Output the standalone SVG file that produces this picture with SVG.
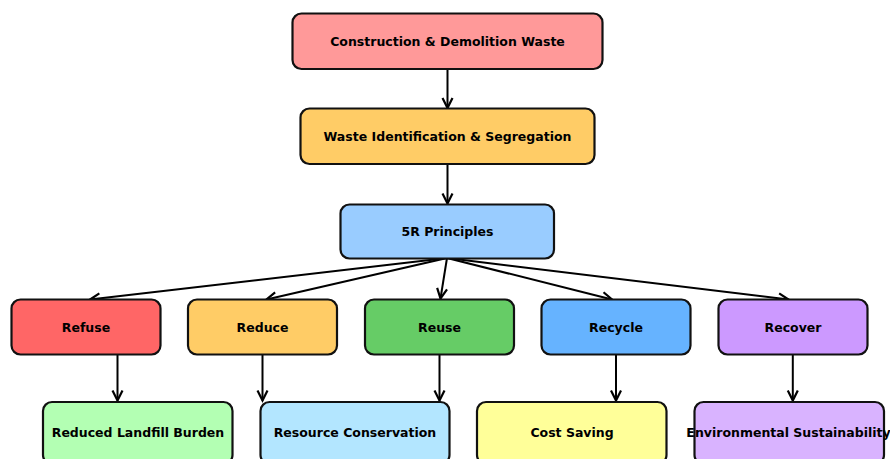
<svg xmlns="http://www.w3.org/2000/svg" width="890" height="459" viewBox="0 0 890 459">
<defs>
<marker id="ah" markerUnits="userSpaceOnUse" markerWidth="16" markerHeight="16" viewBox="-1 -1 16 16" refX="11" refY="6.5" orient="auto">
<path d="M1,1.5 L11,6.5 L1,11.5" fill="none" stroke="#000" stroke-width="2.2"/>
</marker>
<style>
rect{stroke:#111;stroke-width:2.2}
text{font-family:"DejaVu Sans","Liberation Sans",sans-serif;font-weight:bold;font-size:12.5px;fill:#000;text-anchor:middle}
.c line{stroke:#000;stroke-width:2;marker-end:url(#ah)}
</style>
</defs>
<rect width="890" height="459" fill="#fff" style="stroke:none"/>
<g class="c">
<line x1="447.5" y1="69" x2="447.5" y2="108"/>
<line x1="447.5" y1="164" x2="447.5" y2="203.5"/>
<line x1="447" y1="258" x2="90" y2="299.5"/>
<line x1="447" y1="258" x2="266.5" y2="299.5"/>
<line x1="447" y1="258" x2="440.5" y2="298.5"/>
<line x1="447" y1="258" x2="612" y2="299.5"/>
<line x1="447" y1="258" x2="788.5" y2="299.5"/>
<line x1="117.5" y1="355" x2="117.5" y2="400.5"/>
<line x1="262.5" y1="355" x2="262.5" y2="400.5"/>
<line x1="439.5" y1="355" x2="439.5" y2="400.5"/>
<line x1="616" y1="355" x2="616" y2="400.5"/>
<line x1="792.8" y1="355" x2="792.8" y2="400.5"/>
</g>
<g id="cdw"><rect x="292.5" y="13.5" width="310" height="55.5" rx="9" fill="#ff9999"/><text x="447.5" y="45.5">Construction &amp; Demolition Waste</text></g>
<g id="wis"><rect x="300.5" y="108.5" width="294" height="55.5" rx="9" fill="#ffcc66"/><text x="447.5" y="140.5">Waste Identification &amp; Segregation</text></g>
<g id="p5r"><rect x="340.5" y="204.5" width="213.5" height="54" rx="9" fill="#99ccff"/><text x="447.5" y="236">5R Principles</text></g>
<g id="refuse"><rect x="11.5" y="299.5" width="149" height="55" rx="9" fill="#ff6666"/><text x="86" y="331.5">Refuse</text></g>
<g id="reduce"><rect x="188" y="299.5" width="149" height="55" rx="9" fill="#ffcc66"/><text x="262.5" y="331.5">Reduce</text></g>
<g id="reuse"><rect x="365" y="299.5" width="149" height="55" rx="9" fill="#66cc66"/><text x="439.5" y="331.5">Reuse</text></g>
<g id="recycle"><rect x="541.5" y="299.5" width="149" height="55" rx="9" fill="#66b3ff"/><text x="616" y="331.5">Recycle</text></g>
<g id="recover"><rect x="718.5" y="299.5" width="149" height="55" rx="9" fill="#cc99ff"/><text x="793" y="331.5">Recover</text></g>
<g id="landfill"><rect x="43" y="402" width="189.5" height="62" rx="9" fill="#b3ffb3"/><text x="138" y="436.5">Reduced Landfill Burden</text></g>
<g id="resource"><rect x="260.5" y="402" width="189" height="62" rx="9" fill="#b3e6ff"/><text x="355" y="436.5">Resource Conservation</text></g>
<g id="cost"><rect x="477" y="402" width="189.5" height="62" rx="9" fill="#ffff99"/><text x="572" y="436.5">Cost Saving</text></g>
<g id="env"><rect x="694.5" y="402" width="189.5" height="62" rx="9" fill="#d9b3ff"/><text x="788.5" y="436.5">Environmental Sustainability</text></g>
</svg>
